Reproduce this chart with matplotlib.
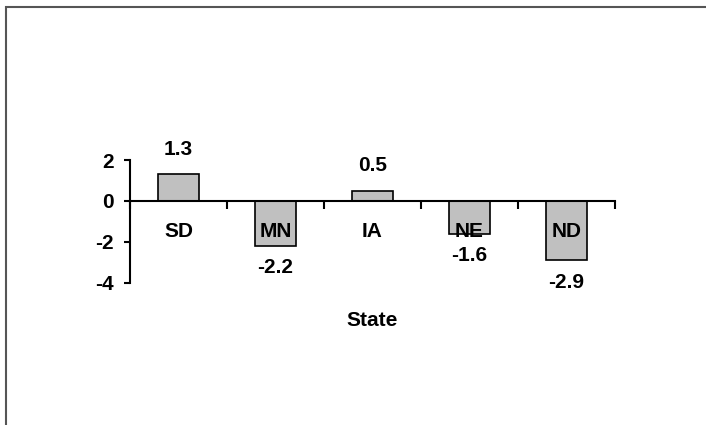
import numpy as np
import matplotlib
matplotlib.use('Agg')
import matplotlib.pyplot as plt
from matplotlib.patches import Rectangle

states = ['SD', 'MN', 'IA', 'NE', 'ND']
values = [1.3, -2.2, 0.5, -1.6, -2.9]
yticks = [-4, -2, 0, 2]

plt.rcParams['font.family'] = 'Liberation Sans'
plt.rcParams['font.weight'] = 'bold'
fs = 15

fig = plt.figure(figsize=(7.06, 4.25), dpi=100)
# outer chart border (only top and left visible in the reference)
fig.patches.append(Rectangle((6/706, -0.1), 1.2, 1 - 7/425 + 0.1, transform=fig.transFigure,
                             fill=False, edgecolor='#555555', lw=1.5))

ax = fig.add_axes([130/706, 1 - 282.7/425, 485/706, 122.7/425])
x = np.arange(len(states)) + 0.5
ax.bar(x, values, width=0.43, color='#c0c0c0', edgecolor='black', lw=1.2, zorder=1)

ax.set_xlim(0, len(states))
ax.set_ylim(-4, 2)
ax.set_yticks(yticks)
ax.set_yticklabels([str(t) for t in yticks], fontsize=fs, fontweight='bold')

ax.spines['top'].set_visible(False)
ax.spines['right'].set_visible(False)
ax.spines['bottom'].set_position(('data', 0))
for s in ['left', 'bottom']:
    ax.spines[s].set_linewidth(1.5)

ax.set_xticks(np.arange(len(states) + 1))
ax.set_xticklabels([])
ax.set_xticks(x, minor=True)
ax.set_xticklabels(states, minor=True, fontsize=fs, fontweight='bold')
ax.tick_params(axis='x', which='major', direction='out', length=6, width=1.5)
ax.tick_params(axis='x', which='minor', length=0, pad=15.5)
ax.tick_params(axis='y', direction='out', length=4.5, width=1.5, pad=7)

for xi, v in zip(x, values):
    if v >= 0:
        ax.annotate(f'{v:.1f}', (xi, v), xytext=(0, 11), textcoords='offset points',
                    ha='center', va='bottom', fontsize=fs, fontweight='bold')
    else:
        ax.annotate(f'{v:.1f}', (xi, v), xytext=(0, -9), textcoords='offset points',
                    ha='center', va='top', fontsize=fs, fontweight='bold')

ax.text(0.5, -0.312, 'State', transform=ax.transAxes, ha='center', va='center',
        fontsize=fs, fontweight='bold')

fig.savefig('out.png', dpi=100)
